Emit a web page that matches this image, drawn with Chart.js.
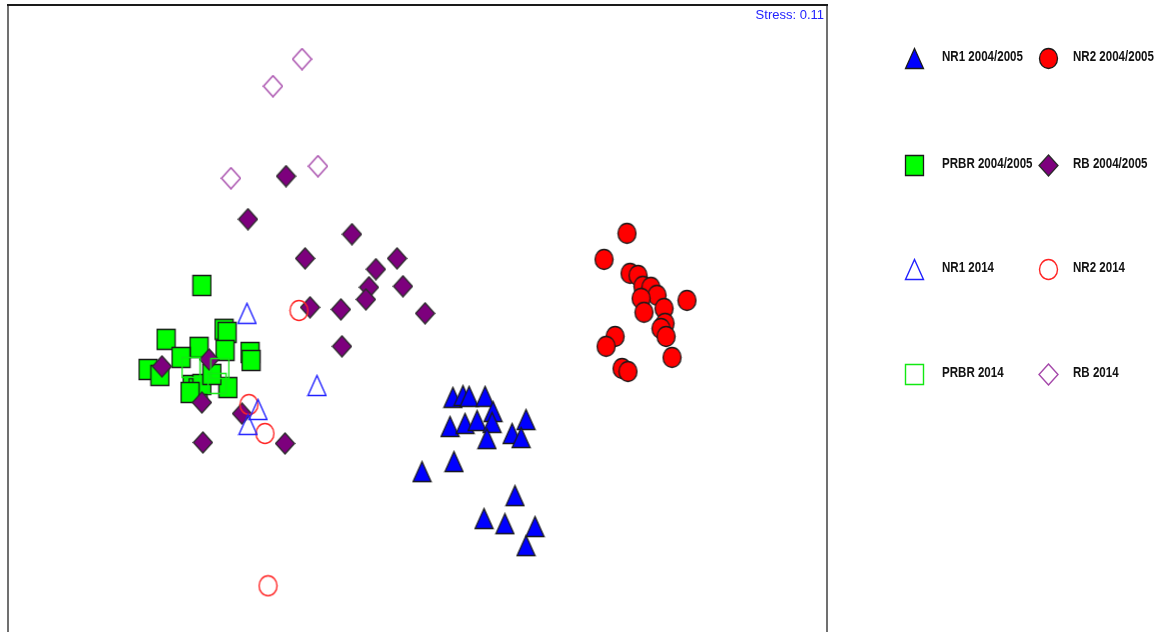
<!DOCTYPE html>
<html lang="en">

<head>
    <meta charset="UTF-8">
    <title>NMDS ordination</title>
    <script src="https://cdnjs.cloudflare.com/ajax/libs/Chart.js/4.4.1/chart.umd.min.js"></script>
    <style>
        html, body { margin: 0; padding: 0; background: #fff; overflow: hidden; }
        #wrap { position: absolute; left: 0; top: 0; }
    </style>
</head>

<body>
    <div id="wrap">
        <canvas id="nmds" width="1158" height="666"></canvas>
    </div>

    <script>
        // NMDS scores (axis 1, axis 2) per site group
        const nr1_0405 = [
            [0.173, -0.414], [0.222, -0.405], [0.252, -0.409], [0.330, -0.409], [0.369, -0.483],
            [0.159, -0.556], [0.232, -0.541], [0.291, -0.527], [0.364, -0.536], [0.339, -0.615],
            [0.462, -0.590], [0.530, -0.522], [0.506, -0.610], [0.022, -0.776], [0.178, -0.727],
            [0.476, -0.893], [0.325, -1.005], [0.427, -1.030], [0.574, -1.044], [0.530, -1.137]
        ];
        const nr2_0405 = [
            [1.023, 0.386], [0.911, 0.259], [1.038, 0.191], [1.077, 0.181], [1.101, 0.128],
            [1.140, 0.123], [1.170, 0.084], [1.092, 0.069], [1.204, 0.020], [1.106, 0.001],
            [1.316, 0.059], [1.209, -0.053], [1.189, -0.078], [1.214, -0.117], [0.965, -0.117],
            [0.921, -0.165], [0.999, -0.273], [1.028, -0.288], [1.243, -0.219]
        ];
        const prbr_0405 = [
            [-1.053, 0.132], [-0.945, -0.082], [-0.930, -0.097], [-1.228, -0.131], [-1.067, -0.170],
            [-1.155, -0.219], [-0.940, -0.185], [-0.818, -0.195], [-0.813, -0.234], [-1.316, -0.278],
            [-1.258, -0.307], [-1.101, -0.356], [-1.072, -0.371], [-1.053, -0.351], [-1.111, -0.390],
            [-0.926, -0.366], [-1.004, -0.302]
        ];
        const rb_0405 = [
            [-0.642, 0.665], [-0.828, 0.455], [-0.320, 0.382], [-0.549, 0.264], [-0.100, 0.264],
            [-0.203, 0.211], [-0.237, 0.123], [-0.071, 0.128], [-0.252, 0.064], [-0.525, 0.025],
            [-0.374, 0.015], [0.037, -0.004], [-0.369, -0.165], [-1.248, -0.263], [-1.018, -0.229],
            [-1.053, -0.439], [-0.857, -0.493], [-1.048, -0.634], [-0.647, -0.639]
        ];
        const nr1_2014 = [[-0.833, -0.004], [-0.491, -0.356], [-0.779, -0.473], [-0.828, -0.546]];
        const nr2_2014 = [[-0.579, 0.010], [-0.823, -0.449], [-0.745, -0.590], [-0.730, -1.333]];
        const prbr_2014 = [[-1.106, -0.268], [-0.965, -0.273], [-0.979, -0.346]];
        const rb_2014 = [[-0.564, 1.236], [-0.706, 1.104], [-0.486, 0.714], [-0.911, 0.655]];

        const groupLabels = [
            'NR1 2004/2005', 'NR2 2004/2005', 'PRBR 2004/2005', 'RB 2004/2005',
            'NR1 2014', 'NR2 2014', 'PRBR 2014', 'RB 2014'
        ];
        const stressValue = 0.11;

        // symbol sprites: PRIMER-style filled / open markers
        function makeSymbol(shape, fill, stroke) {
            const w = 19, h = 21;
            const c = document.createElement('canvas');
            c.width = w + 2;
            c.height = h + 2;
            const g = c.getContext('2d');
            g.translate(1, 1);
            g.beginPath();
            if (shape === 'triangle') {
                g.moveTo(w / 2, 0.5);
                g.lineTo(w - 0.5, h - 0.5);
                g.lineTo(0.5, h - 0.5);
                g.closePath();
            } else if (shape === 'circle') {
                g.ellipse(w / 2, h / 2, w / 2 - 0.5, h / 2 - 0.5, 0, 0, Math.PI * 2);
            } else if (shape === 'square') {
                g.rect(0.5, 0.5, w - 1, h - 1);
            } else {
                g.moveTo(w / 2, 0);
                g.lineTo(w, h / 2);
                g.lineTo(w / 2, h);
                g.lineTo(0, h / 2);
                g.closePath();
            }
            if (fill) {
                g.fillStyle = fill;
                g.fill();
                g.lineWidth = 1.3;
            } else {
                g.lineWidth = 1.4;
            }
            g.strokeStyle = stroke;
            g.stroke();
            return c;
        }

        const symbols = [
            makeSymbol('triangle', '#0000ff', '#1a1a1a'),
            makeSymbol('circle', '#ff0000', '#1a1a1a'),
            makeSymbol('square', '#00ff00', '#1a1a1a'),
            makeSymbol('diamond', '#7d007d', '#2a2a2a'),
            makeSymbol('triangle', null, '#2020ff'),
            makeSymbol('circle', null, '#ff2525'),
            makeSymbol('square', null, '#12e812'),
            makeSymbol('diamond', null, '#a548aa')
        ];

        const groups = [nr1_0405, nr2_0405, prbr_0405, rb_0405, nr1_2014, nr2_2014, prbr_2014, rb_2014];
        // open symbols on top, then RB diamonds, then the rest
        const drawOrder = [3, 3, 3, 2, 1, 1, 1, 1];

        const datasets = groups.map((pts, i) => ({
            label: groupLabels[i],
            data: pts.map(p => ({ x: p[0], y: p[1] })),
            pointStyle: symbols[i],
            order: drawOrder[i],
            showLine: false
        }));

        // frame, stress text and the two-column key
        const nmdsDecor = {
            id: 'nmdsDecor',
            afterDraw(chart) {
                const ctx = chart.ctx;
                const a = chart.chartArea;
                ctx.save();
                ctx.fillStyle = '#707070';
                ctx.fillRect(a.left - 1, a.top, 2, a.bottom - a.top + 10);
                ctx.fillRect(a.right - 1, a.top, 2, a.bottom - a.top + 10);
                ctx.fillStyle = '#1a1a1a';
                ctx.fillRect(a.left - 1, a.top - 1, a.right - a.left + 2, 2);

                ctx.fillStyle = '#2222ff';
                ctx.font = '13px "Liberation Sans", Arial, sans-serif';
                ctx.textAlign = 'right';
                ctx.textBaseline = 'alphabetic';
                ctx.fillText('Stress: ' + stressValue, a.right - 3, 19);

                const colMark = [914, 1048];
                const colText = [942, 1073];
                const rowY = [58, 165, 269, 374];
                ctx.fillStyle = '#111';
                ctx.font = 'bold 15px "Liberation Sans", Arial, sans-serif';
                ctx.textAlign = 'left';
                const order = [[0, 1], [2, 3], [4, 5], [6, 7]];
                order.forEach((row, r) => {
                    row.forEach((gi, c) => {
                        const s = symbols[gi];
                        ctx.drawImage(s, Math.round(colMark[c] - s.width / 2), Math.round(rowY[r] - s.height / 2));
                        ctx.save();
                        ctx.translate(colText[c], rowY[r] + 3);
                        ctx.scale(0.77, 1);
                        ctx.fillText(groupLabels[gi], 0, 0);
                        ctx.restore();
                    });
                });
                ctx.restore();
            }
        };

        new Chart(document.getElementById('nmds'), {
            type: 'scatter',
            data: { datasets },
            options: {
                responsive: false,
                animation: false,
                layout: { padding: { left: 8, top: 5, right: 331, bottom: 2 } },
                scales: {
                    x: { type: 'linear', min: -2.0, max: 2.0, display: false },
                    y: { type: 'linear', min: -1.7, max: 1.5, display: false }
                },
                plugins: {
                    legend: { display: false },
                    tooltip: { enabled: false }
                }
            },
            plugins: [nmdsDecor]
        });
    </script>
</body>

</html>
